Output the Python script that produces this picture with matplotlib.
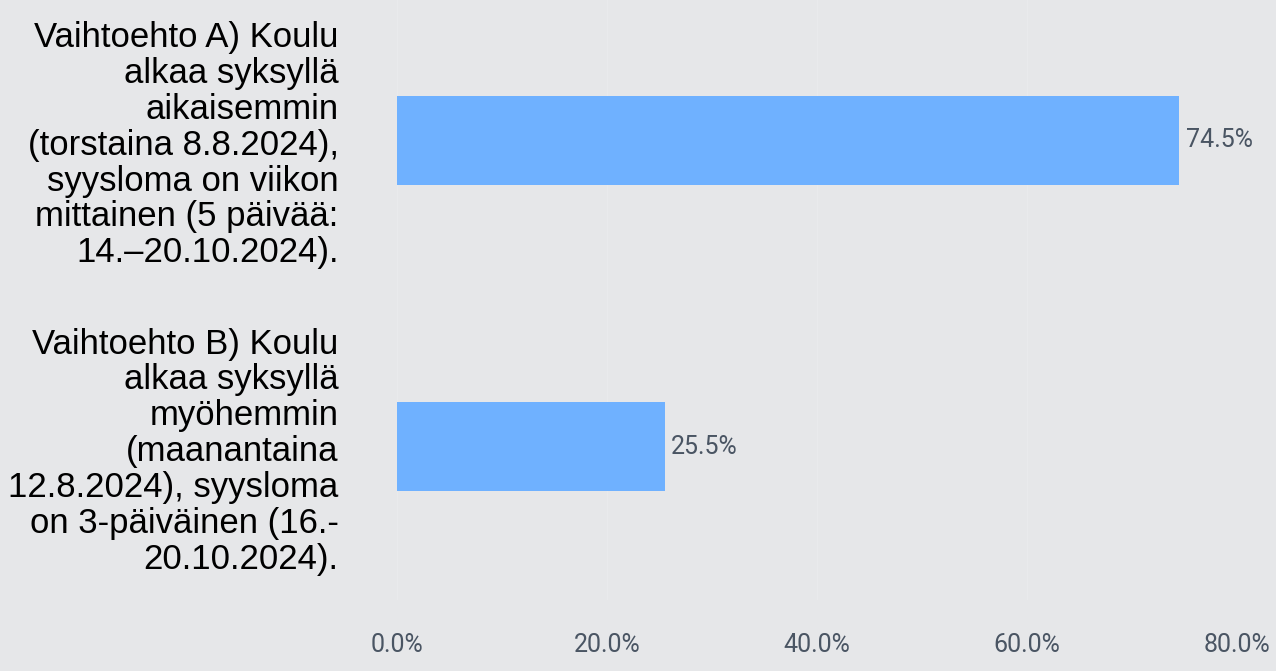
import matplotlib
matplotlib.use("Agg")
import matplotlib.pyplot as plt

# Survey result: share of respondents per option (%)
categories = [
    "Vaihtoehto A) Koulu\nalkaa syksyllä\naikaisemmin\n(torstaina 8.8.2024),\nsyysloma on viikon\nmittainen (5 päivää:\n14.–20.10.2024).",
    "Vaihtoehto B) Koulu\nalkaa syksyllä\nmyöhemmin\n(maanantaina\n12.8.2024), syysloma\non 3-päiväinen (16.-\n20.10.2024).",
]
values = [74.5, 25.5]
x_ticks = [0, 20, 40, 60, 80]

BG = "#e6e7e9"
BAR = "#6fb1ff"
TXT = "#4a5563"

fig = plt.figure(figsize=(12.76, 6.71), dpi=100, facecolor=BG)
ax = fig.add_axes([397 / 1276, 1 - 600 / 671, 840 / 1276, 600 / 671])
ax.set_facecolor(BG)

ypos = list(range(len(values)))
ax.barh(ypos, values, height=0.29, color=BAR, zorder=2)

for y, v in zip(ypos, values):
    ax.text(v + 0.6, y, f"{v:.1f}%", va="center", ha="left",
            fontsize=18, family="Roboto", color=TXT)

ax.set_xlim(0, 80)
ax.set_ylim(1.5, -0.458)
ax.set_xticks(x_ticks)
ax.set_xticklabels([f"{t:.1f}%" for t in x_ticks], family="Roboto",
                   fontsize=18, color=TXT)
ax.set_yticks(ypos)
ax.set_yticklabels(categories, family="Liberation Sans", fontsize=25,
                   color="black", ha="right", linespacing=1.11)

ax.tick_params(axis="x", length=0, pad=24)
ax.tick_params(axis="y", length=0, pad=42)
ax.grid(axis="x", color="white", alpha=0.15, linewidth=1, zorder=0)
for s in ax.spines.values():
    s.set_visible(False)

fig.savefig("out.png", dpi=100, facecolor=BG)
